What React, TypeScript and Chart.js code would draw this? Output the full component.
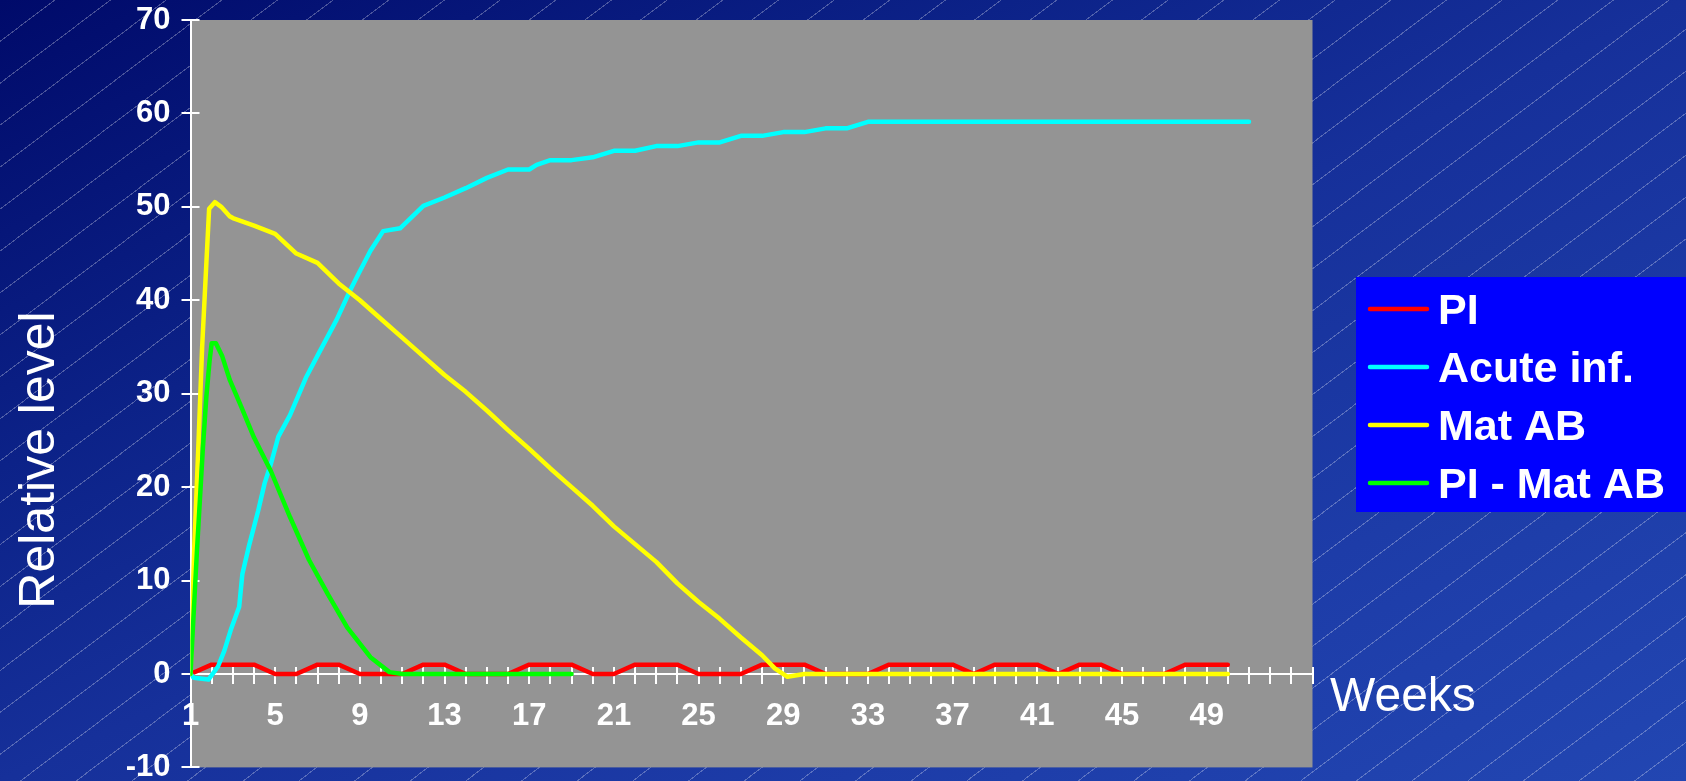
import React, { useEffect, useRef } from 'react';
import { Chart, registerables } from 'chart.js';

Chart.register(...registerables);

const FONT = '"Liberation Sans", Arial, sans-serif';

// axis ranges / tick labels
const WEEK_MIN = 1;
const WEEK_MAX = 54;
const Y_MIN = -10;
const Y_MAX = 70;
const Y_STEP = 10;
const X_LABEL_WEEKS = [1, 5, 9, 13, 17, 21, 25, 29, 33, 37, 41, 45, 49];
const Y_TITLE = 'Relative level';
const X_TITLE = 'Weeks';

// series labels / colours
const SERIES_LABELS = ['PI', 'Acute inf.', 'Mat AB', 'PI - Mat AB'];
const SERIES_COLORS = ['#ff0000', '#00ffff', '#ffff00', '#00ff00'];

// PI
const piWeeks = [1, 2, 3, 4, 5, 6, 7, 8, 9, 10, 11, 12, 13, 14, 15, 16, 17, 18, 19, 20, 21, 22, 23, 24, 25, 26, 27, 28, 29, 30, 31, 32, 33, 34, 35, 36, 37, 38, 39, 40, 41, 42, 43, 44, 45, 46, 47, 48, 49, 50];
const piValues = [0, 1, 1, 1, 0, 0, 1, 1, 0, 0, 0, 1, 1, 0, 0, 0, 1, 1, 1, 0, 0, 1, 1, 1, 0, 0, 0, 1, 1, 1, 0, 0, 0, 1, 1, 1, 1, 0, 1, 1, 1, 0, 1, 1, 0, 0, 0, 1, 1, 1];

// Acute inf.
const acuteWeeks = [1, 1.15, 1.85, 2.3, 2.6, 2.9, 3.3, 3.45, 3.75, 4.2, 4.5, 4.8, 5.15, 5.7, 6.45, 7.1, 7.9, 8.55, 8.95, 9.5, 10.1, 10.9, 12, 13, 14, 15, 16, 17, 17.35, 18, 19, 20, 21, 22, 23, 24, 25, 26, 27, 28, 29, 30, 31, 32, 33, 34, 35, 36, 37, 38, 39, 40, 41, 42, 43, 44, 45, 46, 47, 48, 49, 50, 51];
const acuteValues = [0, -0.4, -0.6, 0.8, 2.5, 4.7, 7.2, 10.7, 13.6, 17.5, 20.4, 22.5, 25.4, 27.7, 31.7, 34.5, 37.9, 41.1, 42.9, 45.3, 47.4, 47.7, 50.1, 51, 52, 53.1, 54, 54, 54.5, 55, 55, 55.3, 56, 56, 56.5, 56.5, 56.9, 56.9, 57.6, 57.6, 58, 58, 58.4, 58.4, 59.1, 59.1, 59.1, 59.1, 59.1, 59.1, 59.1, 59.1, 59.1, 59.1, 59.1, 59.1, 59.1, 59.1, 59.1, 59.1, 59.1, 59.1, 59.1];

// Mat AB
const matWeeks = [1, 1.18, 1.37, 1.55, 1.75, 1.88, 2.15, 2.45, 2.85, 3, 4, 5, 6, 7, 8, 9, 10, 11, 12, 13, 14, 15, 16, 17, 18, 19, 20, 21, 22, 23, 24, 25, 26, 27, 28, 28.6, 29.2, 30, 31, 32, 33, 34, 35, 36, 37, 38, 39, 40, 41, 42, 43, 44, 45, 46, 47, 48, 49, 50];
const matValues = [0, 13.6, 24.3, 35, 44, 49.8, 50.5, 50, 49, 48.8, 48, 47.1, 45, 44, 41.8, 40, 38, 36, 34, 32, 30.2, 28.2, 26.1, 24.1, 22, 20, 18, 15.8, 13.9, 12, 9.7, 7.7, 5.9, 3.9, 2, 0.6, -0.3, 0, 0, 0, 0, 0, 0, 0, 0, 0, 0, 0, 0, 0, 0, 0, 0, 0, 0, 0, 0, 0];

// PI - Mat AB
const diffWeeks = [1, 1.3, 1.58, 1.75, 1.9, 2, 2.2, 2.5, 2.85, 3.4, 4, 4.8, 5.7, 6.6, 7.5, 8.4, 9.5, 10.4, 11, 12, 13, 14, 15, 16, 17, 18, 19];
const diffValues = [0, 13, 24, 29.7, 33.5, 35.4, 35.4, 34, 31.5, 28.6, 25.3, 21.7, 16.8, 12.2, 8.5, 5, 1.8, 0.2, 0, 0, 0, 0, 0, 0, 0, 0, 0];

const SERIES_WEEKS = [piWeeks, acuteWeeks, matWeeks, diffWeeks];
const SERIES_VALUES = [piValues, acuteValues, matValues, diffValues];

const decorPlugin = {
  id: 'decor',
  beforeDraw(chart: any) {
    const { ctx, chartArea: a } = chart;
    ctx.save();
    ctx.fillStyle = '#949494';
    ctx.fillRect(a.left, a.top, a.right - a.left, a.bottom - a.top);
    ctx.restore();
  },
  beforeDatasetsDraw(chart: any) {
    const { ctx, scales, chartArea: a } = chart;
    const xs = scales.x;
    const ys = scales.y;
    const y0 = ys.getPixelForValue(0);
    ctx.save();
    ctx.strokeStyle = '#ffffff';
    ctx.lineWidth = 2;
    ctx.beginPath();
    for (let w = WEEK_MIN + 1; w <= WEEK_MAX; w++) {
      const px = Math.round(xs.getPixelForValue(w));
      ctx.moveTo(px, y0 - 7);
      ctx.lineTo(px, y0 + 10);
    }
    for (let v = Y_MIN; v <= Y_MAX; v += Y_STEP) {
      const py = Math.round(ys.getPixelForValue(v));
      ctx.moveTo(a.left - 9, py);
      ctx.lineTo(a.left + 9, py);
    }
    ctx.stroke();
    ctx.restore();
  },
  afterDraw(chart: any) {
    const { ctx } = chart;
    ctx.save();
    // axis titles
    ctx.fillStyle = '#ffffff';
    ctx.font = `50px ${FONT}`;
    ctx.textAlign = 'center';
    ctx.textBaseline = 'alphabetic';
    ctx.translate(54, 460);
    ctx.rotate(-Math.PI / 2);
    ctx.fillText(Y_TITLE, 0, 0);
    ctx.setTransform(1, 0, 0, 1, 0, 0);
    ctx.font = `48px ${FONT}`;
    ctx.textAlign = 'left';
    ctx.fillText(X_TITLE, 1330, 711);

    // legend
    ctx.fillStyle = '#0000ff';
    ctx.fillRect(1356, 277, 330, 235);
    const ds = chart.data.datasets;
    ctx.font = `bold 43px ${FONT}`;
    ctx.textBaseline = 'alphabetic';
    ds.forEach((d: any, i: number) => {
      const ly = 309 + i * 58;
      ctx.strokeStyle = d.borderColor;
      ctx.lineWidth = 4.5;
      ctx.lineCap = 'round';
      ctx.beginPath();
      ctx.moveTo(1370, ly);
      ctx.lineTo(1427, ly);
      ctx.stroke();
      ctx.fillStyle = '#ffffff';
      ctx.fillText(d.label, 1438, 323.5 + i * 58);
    });
    ctx.restore();
  },
};

export default function App() {
  const canvasRef = useRef<HTMLCanvasElement>(null);

  useEffect(() => {
    document.body.style.margin = '0';
    document.documentElement.style.overflow = 'hidden';
    const canvas = canvasRef.current;
    if (!canvas) return;

    const datasets = SERIES_LABELS.map((label, i) => ({
      label,
      data: SERIES_WEEKS[i].map((w, j) => ({ x: w, y: SERIES_VALUES[i][j] })),
      borderColor: SERIES_COLORS[i],
      backgroundColor: SERIES_COLORS[i],
      borderWidth: 4.5,
      pointRadius: 0,
      tension: 0,
      fill: false,
      borderCapStyle: 'round' as const,
      borderJoinStyle: 'round' as const,
      order: SERIES_LABELS.length - i,
    }));

    const tickFont = { family: FONT, size: 31, weight: 'bold' as const };

    const chart = new Chart(canvas, {
      type: 'line',
      data: { datasets },
      options: {
        animation: false,
        responsive: false,
        maintainAspectRatio: false,
        layout: { padding: { left: 0, right: 373.5, top: 20, bottom: 13.6 } },
        plugins: { legend: { display: false }, tooltip: { enabled: false }, title: { display: false } },
        scales: {
          x: {
            type: 'linear',
            min: WEEK_MIN,
            max: WEEK_MAX,
            position: { y: 0 } as any,
            grid: { drawOnChartArea: false, drawTicks: false },
            border: { display: true, color: '#ffffff', width: 2 },
            ticks: {
              stepSize: 1,
              autoSkip: false,
              maxRotation: 0,
              minRotation: 0,
              padding: 24,
              color: '#ffffff',
              font: tickFont,
              callback: (v: any) => (X_LABEL_WEEKS.includes(Number(v)) ? String(v) : ''),
            },
            afterFit: (s: any) => {
              s.paddingLeft = 0;
              s.paddingRight = 0;
            },
          },
          y: {
            type: 'linear',
            position: 'left',
            min: Y_MIN,
            max: Y_MAX,
            grid: { drawOnChartArea: false, drawTicks: false },
            border: { display: true, color: '#ffffff', width: 2 },
            ticks: { stepSize: Y_STEP, padding: 20, color: '#ffffff', font: tickFont },
            afterFit: (s: any) => {
              s.width = 190.5;
              s.paddingTop = 0;
              s.paddingBottom = 0;
            },
          },
        },
      },
      plugins: [decorPlugin],
    });
    return () => chart.destroy();
  }, []);

  return (
    <div
      style={{
        position: 'fixed',
        left: 0,
        top: 0,
        width: 1686,
        height: 781,
        overflow: 'hidden',
        background:
          'repeating-linear-gradient(143deg, rgba(255,255,255,0) 0px, rgba(255,255,255,0) 32.5px, rgba(255,255,255,0.28) 32.5px, rgba(255,255,255,0.28) 33.5px), linear-gradient(to bottom right, #000a6a 0%, #0c2288 30%, #16309a 50%, #1d3ca8 75%, #2246b2 100%)',
      }}
    >
      <canvas ref={canvasRef} width={1686} height={781} style={{ display: 'block' }} />
    </div>
  );
}
